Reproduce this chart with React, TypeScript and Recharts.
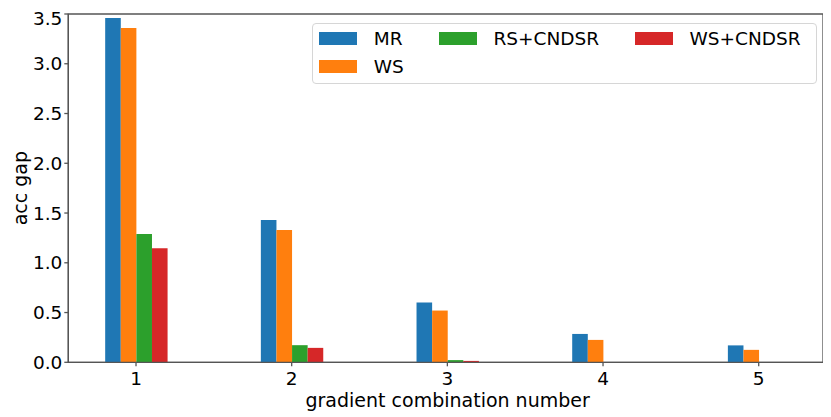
import React from "react";
import { BarChart, Bar, XAxis, YAxis, Legend, ReferenceArea } from "recharts";

const categories = [1, 2, 3, 4, 5];
const seriesNames = ["MR", "WS", "RS+CNDSR", "WS+CNDSR"];
const seriesColors = ["#1f77b4", "#ff7f0e", "#2ca02c", "#d62728"];
const mrValues = [3.46, 1.43, 0.6, 0.285, 0.17];
const wsValues = [3.36, 1.33, 0.52, 0.225, 0.125];
const rsCndsrValues = [1.29, 0.172, 0.022, 0.003, 0.001];
const wsCndsrValues = [1.145, 0.145, 0.014, 0.001, 0.0005];
const yTicks = [0, 0.5, 1, 1.5, 2, 2.5, 3, 3.5];
const xLabel = "gradient combination number";
const yLabel = "acc gap";

const seriesValues = [mrValues, wsValues, rsCndsrValues, wsCndsrValues];
const data = categories.map((c, i) => {
  const row: Record<string, number> = { x: c };
  seriesNames.forEach((n, k) => {
    row[n] = seriesValues[k][i];
  });
  return row;
});

const FONT = "'DejaVu Sans', sans-serif";
const FS = 18.5;
const LFS = 19;
const AXIS = "#555";

const LegendBox = () => {
  const order = [0, 2, 3, 1];
  const pos = [
    { l: 6.3, t: 4.7 },
    { l: 126, t: 4.7 },
    { l: 322, t: 4.7 },
    { l: 6.3, t: 32.3 },
  ];
  return (
    <div
      style={{
        position: "relative",
        width: 505,
        height: 61,
        boxSizing: "border-box",
        border: "1px solid #d6d6d6",
        borderRadius: 4,
        background: "rgba(255,255,255,0.8)",
        fontFamily: FONT,
        fontSize: FS,
        color: "#000",
      }}
    >
      {order.map((k, j) => (
        <div
          key={seriesNames[k]}
          style={{
            position: "absolute",
            left: pos[j].l,
            top: pos[j].t,
            height: 20,
            display: "flex",
            alignItems: "center",
            whiteSpace: "nowrap",
          }}
        >
          <span
            style={{
              display: "inline-block",
              width: 38,
              height: 13,
              background: seriesColors[k],
              marginRight: 16.5,
            }}
          />
          <span>{seriesNames[k]}</span>
        </div>
      ))}
    </div>
  );
};

export default function App() {
  return (
    <BarChart
      width={823}
      height={409}
      data={data}
      margin={{ top: 6, right: 8, bottom: 0, left: 0 }}
      barGap={0}
      barSize={15.6}
    >
      <XAxis
        dataKey="x"
        type="number"
        domain={[0.565, 5.413]}
        ticks={categories}
        allowDataOverflow
        height={54.7}
        stroke={AXIS}
        strokeWidth={1.3}
        tickSize={4}
        tickMargin={6}
        tick={{ fill: "#000", fontSize: FS, fontFamily: FONT }}
        label={{
          content: ({ viewBox }: any) => (
            <text
              x={viewBox.x + viewBox.width / 2 + 2}
              y={399}
              textAnchor="middle"
              fontSize={LFS}
              fontFamily={FONT}
              fill="#000"
            >
              {xLabel}
            </text>
          ),
        }}
      />
      <YAxis
        type="number"
        domain={[0, 3.5]}
        ticks={yTicks}
        width={60.3}
        stroke={AXIS}
        strokeWidth={1.3}
        tickSize={4}
        tickMargin={2}
        tickFormatter={(v: number) => v.toFixed(1)}
        tick={{ fill: "#000", fontSize: FS, fontFamily: FONT }}
        label={{
          content: ({ viewBox }: any) => (
            <text
              x={18.7}
              y={viewBox.y + viewBox.height / 2}
              transform={`rotate(-90 18.7 ${viewBox.y + viewBox.height / 2})`}
              textAnchor="middle"
              fontSize={LFS}
              fontFamily={FONT}
              fill="#000"
            >
              {yLabel}
            </text>
          ),
        }}
      />
      {seriesNames.map((n, k) => (
        <Bar key={n} dataKey={n} fill={seriesColors[k]} isAnimationActive={false} />
      ))}
      <ReferenceArea
        x1={0.565}
        x2={5.413}
        y1={0}
        y2={3.5}
        fill="none"
        fillOpacity={0}
        stroke={AXIS}
        strokeWidth={1.3}
        ifOverflow="visible"
      />
      <Legend
        layout="vertical"
        align="center"
        verticalAlign="middle"
        wrapperStyle={{ position: "absolute", left: 304, top: 15, width: 505, height: 61 }}
        content={() => <LegendBox />}
      />
    </BarChart>
  );
}
